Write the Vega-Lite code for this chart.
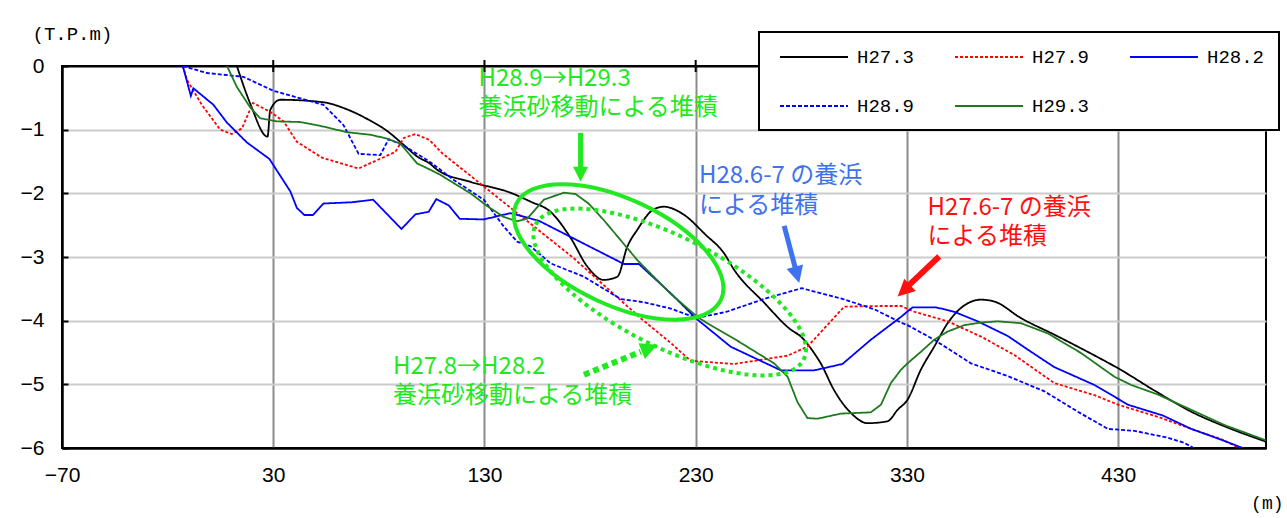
{
  "$schema": "https://vega.github.io/schema/vega-lite/v6.json",
  "width": 1204,
  "height": 382,
  "autosize": {"type": "none"},
  "padding": {"left": 62, "top": 66, "right": 21, "bottom": 70},
  "background": "#ffffff",
  "config": {
    "view": {"stroke": "#000000", "strokeWidth": 2}
  },
  "datasets": {
    "profiles": [
      {"series":"H27.3","x":12.8,"y":0},{"series":"H27.3","x":19.1,"y":-0.59},{"series":"H27.3","x":27.3,"y":-1.11},{"series":"H27.3","x":28.6,"y":-0.69},{"series":"H27.3","x":33.3,"y":-0.53},{"series":"H27.3","x":53.8,"y":-0.57},{"series":"H27.3","x":63.3,"y":-0.66},{"series":"H27.3","x":74.4,"y":-0.83},{"series":"H27.3","x":83.9,"y":-1.02},{"series":"H27.3","x":91.8,"y":-1.24},{"series":"H27.3","x":98.1,"y":-1.42},{"series":"H27.3","x":104.4,"y":-1.54},{"series":"H27.3","x":107.6,"y":-1.63},{"series":"H27.3","x":123.4,"y":-1.82},{"series":"H27.3","x":142.3,"y":-1.99},{"series":"H27.3","x":151.8,"y":-2.13},{"series":"H27.3","x":161.3,"y":-2.29},{"series":"H27.3","x":170.8,"y":-2.7},{"series":"H27.3","x":178.7,"y":-3.15},{"series":"H27.3","x":186.5,"y":-3.36},{"series":"H27.3","x":192.9,"y":-3.31},{"series":"H27.3","x":197.6,"y":-2.84},{"series":"H27.3","x":202.4,"y":-2.57},{"series":"H27.3","x":210.2,"y":-2.25},{"series":"H27.3","x":215,"y":-2.21},{"series":"H27.3","x":223.7,"y":-2.32},{"series":"H27.3","x":234.7,"y":-2.65},{"series":"H27.3","x":243.4,"y":-2.94},{"series":"H27.3","x":248.2,"y":-3.2},{"series":"H27.3","x":262.2,"y":-3.71},{"series":"H27.3","x":275,"y":-4.14},{"series":"H27.3","x":279.8,"y":-4.25},{"series":"H27.3","x":286.1,"y":-4.51},{"series":"H27.3","x":289.2,"y":-4.67},{"series":"H27.3","x":295.5,"y":-5.09},{"series":"H27.3","x":303.5,"y":-5.45},{"series":"H27.3","x":311.4,"y":-5.61},{"series":"H27.3","x":320.8,"y":-5.58},{"series":"H27.3","x":325.6,"y":-5.4},{"series":"H27.3","x":330.3,"y":-5.24},{"series":"H27.3","x":336.6,"y":-4.77},{"series":"H27.3","x":342.9,"y":-4.41},{"series":"H27.3","x":349.3,"y":-4.04},{"series":"H27.3","x":355.6,"y":-3.8},{"series":"H27.3","x":365.1,"y":-3.67},{"series":"H27.3","x":371.4,"y":-3.7},{"series":"H27.3","x":384,"y":-3.96},{"series":"H27.3","x":399.8,"y":-4.22},{"series":"H27.3","x":415.6,"y":-4.49},{"series":"H27.3","x":430.6,"y":-4.76},{"series":"H27.3","x":448.8,"y":-5.13},{"series":"H27.3","x":464.6,"y":-5.43},{"series":"H27.3","x":480.4,"y":-5.66},{"series":"H27.3","x":500,"y":-5.9},

      {"series":"H27.9","x":-12.8,"y":0},{"series":"H27.9","x":-10.8,"y":-0.22},{"series":"H27.9","x":-3.8,"y":-0.61},{"series":"H27.9","x":4.9,"y":-1.0},{"series":"H27.9","x":10.4,"y":-1.07},{"series":"H27.9","x":15.2,"y":-0.98},{"series":"H27.9","x":20.4,"y":-0.58},{"series":"H27.9","x":28.6,"y":-0.72},{"series":"H27.9","x":34.9,"y":-0.87},{"series":"H27.9","x":41.2,"y":-1.19},{"series":"H27.9","x":53.1,"y":-1.44},{"series":"H27.9","x":70.4,"y":-1.61},{"series":"H27.9","x":87.8,"y":-1.35},{"series":"H27.9","x":91.8,"y":-1.13},{"series":"H27.9","x":97.3,"y":-1.07},{"series":"H27.9","x":103.9,"y":-1.16},{"series":"H27.9","x":110,"y":-1.37},{"series":"H27.9","x":172.3,"y":-3.02},{"series":"H27.9","x":203.9,"y":-3.96},{"series":"H27.9","x":218.2,"y":-4.35},{"series":"H27.9","x":227.6,"y":-4.63},{"series":"H27.9","x":248.1,"y":-4.68},{"series":"H27.9","x":273.5,"y":-4.55},{"series":"H27.9","x":282.9,"y":-4.41},{"series":"H27.9","x":300.3,"y":-3.78},{"series":"H27.9","x":317.7,"y":-3.77},{"series":"H27.9","x":327.2,"y":-3.77},{"series":"H27.9","x":333.5,"y":-3.86},{"series":"H27.9","x":349.3,"y":-4.01},{"series":"H27.9","x":365.1,"y":-4.25},{"series":"H27.9","x":380.9,"y":-4.54},{"series":"H27.9","x":399.8,"y":-4.98},{"series":"H27.9","x":418.8,"y":-5.17},{"series":"H27.9","x":429.9,"y":-5.32},{"series":"H27.9","x":448.8,"y":-5.51},{"series":"H27.9","x":464.6,"y":-5.7},{"series":"H27.9","x":478.8,"y":-5.86},{"series":"H27.9","x":489.2,"y":-6.03},

      {"series":"H28.2","x":-12.8,"y":0},{"series":"H28.2","x":-9.0,"y":-0.47},{"series":"H28.2","x":-7.8,"y":-0.35},{"series":"H28.2","x":1.7,"y":-0.61},{"series":"H28.2","x":8.1,"y":-0.89},{"series":"H28.2","x":17.5,"y":-1.2},{"series":"H28.2","x":28.2,"y":-1.46},{"series":"H28.2","x":38.1,"y":-1.97},{"series":"H28.2","x":41.2,"y":-2.23},{"series":"H28.2","x":44.7,"y":-2.34},{"series":"H28.2","x":48.8,"y":-2.34},{"series":"H28.2","x":53.8,"y":-2.16},{"series":"H28.2","x":67.3,"y":-2.14},{"series":"H28.2","x":77.3,"y":-2.1},{"series":"H28.2","x":90.7,"y":-2.56},{"series":"H28.2","x":97.3,"y":-2.33},{"series":"H28.2","x":103.6,"y":-2.29},{"series":"H28.2","x":107.2,"y":-2.09},{"series":"H28.2","x":113.1,"y":-2.19},{"series":"H28.2","x":118.3,"y":-2.4},{"series":"H28.2","x":129.7,"y":-2.41},{"series":"H28.2","x":142.3,"y":-2.31},{"series":"H28.2","x":155.7,"y":-2.43},{"series":"H28.2","x":196,"y":-3.11},{"series":"H28.2","x":203.1,"y":-3.11},{"series":"H28.2","x":218.2,"y":-3.57},{"series":"H28.2","x":230,"y":-3.96},{"series":"H28.2","x":246.6,"y":-4.41},{"series":"H28.2","x":270.3,"y":-4.78},{"series":"H28.2","x":286.1,"y":-4.78},{"series":"H28.2","x":299.5,"y":-4.68},{"series":"H28.2","x":312.9,"y":-4.3},{"series":"H28.2","x":327.2,"y":-3.94},{"series":"H28.2","x":332.7,"y":-3.79},{"series":"H28.2","x":343.7,"y":-3.79},{"series":"H28.2","x":352.4,"y":-3.86},{"series":"H28.2","x":363.5,"y":-4.01},{"series":"H28.2","x":377.7,"y":-4.24},{"series":"H28.2","x":388.8,"y":-4.49},{"series":"H28.2","x":399.8,"y":-4.73},{"series":"H28.2","x":418.8,"y":-5.01},{"series":"H28.2","x":430.6,"y":-5.24},{"series":"H28.2","x":434.6,"y":-5.32},{"series":"H28.2","x":451.2,"y":-5.49},{"series":"H28.2","x":464.6,"y":-5.7},{"series":"H28.2","x":478.8,"y":-5.87},{"series":"H28.2","x":492.1,"y":-6.04},

      {"series":"H28.9","x":-12.8,"y":0},{"series":"H28.9","x":-1.4,"y":-0.11},{"series":"H28.9","x":15.9,"y":-0.17},{"series":"H28.9","x":30.1,"y":-0.39},{"series":"H28.9","x":53.8,"y":-0.61},{"series":"H28.9","x":63.3,"y":-0.93},{"series":"H28.9","x":70.4,"y":-1.38},{"series":"H28.9","x":80.7,"y":-1.4},{"series":"H28.9","x":84.6,"y":-1.15},{"series":"H28.9","x":91.8,"y":-1.25},{"series":"H28.9","x":104.4,"y":-1.51},{"series":"H28.9","x":115.5,"y":-1.79},{"series":"H28.9","x":129.7,"y":-2.1},{"series":"H28.9","x":139.1,"y":-2.52},{"series":"H28.9","x":145.5,"y":-2.76},{"series":"H28.9","x":151.8,"y":-2.83},{"series":"H28.9","x":161.3,"y":-3.1},{"series":"H28.9","x":177.1,"y":-3.31},{"series":"H28.9","x":194.5,"y":-3.66},{"series":"H28.9","x":205.5,"y":-3.71},{"series":"H28.9","x":218.2,"y":-3.81},{"series":"H28.9","x":230.5,"y":-3.96},{"series":"H28.9","x":244.7,"y":-3.86},{"series":"H28.9","x":263.2,"y":-3.65},{"series":"H28.9","x":280.2,"y":-3.49},{"series":"H28.9","x":298.7,"y":-3.65},{"series":"H28.9","x":314.5,"y":-3.82},{"series":"H28.9","x":327.2,"y":-4.03},{"series":"H28.9","x":330.3,"y":-4.07},{"series":"H28.9","x":342.9,"y":-4.3},{"series":"H28.9","x":360.3,"y":-4.67},{"series":"H28.9","x":377.7,"y":-4.87},{"series":"H28.9","x":395.1,"y":-5.11},{"series":"H28.9","x":410.9,"y":-5.43},{"series":"H28.9","x":425.1,"y":-5.7},{"series":"H28.9","x":437.7,"y":-5.73},{"series":"H28.9","x":453.6,"y":-5.84},{"series":"H28.9","x":461.4,"y":-5.92},{"series":"H28.9","x":467.8,"y":-6.04},

      {"series":"H29.3","x":8.1,"y":0},{"series":"H29.3","x":12.8,"y":-0.33},{"series":"H29.3","x":19.1,"y":-0.65},{"series":"H29.3","x":23.8,"y":-0.82},{"series":"H29.3","x":31.8,"y":-0.87},{"series":"H29.3","x":42.8,"y":-0.88},{"series":"H29.3","x":52.3,"y":-0.94},{"series":"H29.3","x":64.9,"y":-1.04},{"series":"H29.3","x":76,"y":-1.08},{"series":"H29.3","x":83.9,"y":-1.14},{"series":"H29.3","x":90.2,"y":-1.22},{"series":"H29.3","x":98.1,"y":-1.53},{"series":"H29.3","x":104.4,"y":-1.63},{"series":"H29.3","x":109.1,"y":-1.71},{"series":"H29.3","x":123.4,"y":-2.0},{"series":"H29.3","x":131.3,"y":-2.2},{"series":"H29.3","x":139.1,"y":-2.37},{"series":"H29.3","x":145.5,"y":-2.44},{"series":"H29.3","x":150.2,"y":-2.4},{"series":"H29.3","x":158.1,"y":-2.1},{"series":"H29.3","x":167.6,"y":-1.99},{"series":"H29.3","x":173.1,"y":-2.01},{"series":"H29.3","x":179.3,"y":-2.16},{"series":"H29.3","x":186.5,"y":-2.42},{"series":"H29.3","x":202.4,"y":-3.05},{"series":"H29.3","x":218.2,"y":-3.58},{"series":"H29.3","x":230.8,"y":-3.94},{"series":"H29.3","x":235.5,"y":-4.04},{"series":"H29.3","x":249,"y":-4.3},{"series":"H29.3","x":267.1,"y":-4.67},{"series":"H29.3","x":273.5,"y":-4.88},{"series":"H29.3","x":278.2,"y":-5.28},{"series":"H29.3","x":282.9,"y":-5.53},{"series":"H29.3","x":287.7,"y":-5.54},{"series":"H29.3","x":298.7,"y":-5.46},{"series":"H29.3","x":312.9,"y":-5.44},{"series":"H29.3","x":317.7,"y":-5.32},{"series":"H29.3","x":322.4,"y":-4.98},{"series":"H29.3","x":327.2,"y":-4.77},{"series":"H29.3","x":330.3,"y":-4.67},{"series":"H29.3","x":336.6,"y":-4.49},{"series":"H29.3","x":342.9,"y":-4.3},{"series":"H29.3","x":349.3,"y":-4.17},{"series":"H29.3","x":357.2,"y":-4.07},{"series":"H29.3","x":365.1,"y":-4.03},{"series":"H29.3","x":373,"y":-4.01},{"series":"H29.3","x":384,"y":-4.04},{"series":"H29.3","x":396.7,"y":-4.2},{"series":"H29.3","x":412.5,"y":-4.51},{"series":"H29.3","x":428.2,"y":-4.88},{"series":"H29.3","x":436.2,"y":-5.01},{"series":"H29.3","x":448.8,"y":-5.16},{"series":"H29.3","x":464.6,"y":-5.4},{"series":"H29.3","x":480.4,"y":-5.64},{"series":"H29.3","x":500,"y":-5.88}
    ],
    "topTicks": [
      {"x":30,"y":0},{"x":130,"y":0},{"x":230,"y":0},{"x":330,"y":0},{"x":430,"y":0}
    ],
    "greenNotes": [
      {"x":127.2,"y":-0.31,"t":"H28.9→H29.3\n養浜砂移動による堆積"},
      {"x":86.7,"y":-4.83,"t":"H27.8→H28.2\n養浜砂移動による堆積"}
    ],
    "blueNotes": [
      {"x":231.6,"y":-1.84,"t":"H28.6-7 の養浜\nによる堆積"}
    ],
    "redNotes": [
      {"x":339.8,"y":-2.34,"t":"H27.6-7 の養浜\nによる堆積"}
    ]
  },
  "encoding": {
    "x": {
      "field": "x", "type": "quantitative",
      "scale": {"domain": [-70, 500], "nice": false, "zero": false},
      "axis": {
        "values": [-70, 30, 130, 230, 330, 430],
        "grid": true,
        "gridColor": {"condition": {"test": "datum.value === -70", "value": "#000000"}, "value": "#8c8c8c"},
        "gridWidth": 2,
        "ticks": false,
        "domainColor": "#000000", "domainWidth": 2,
        "labelFont": "Liberation Sans", "labelFontSize": 21, "labelColor": "#000000",
        "labelPadding": 16, "labelFlush": false, "labelOverlap": false,
        "title": "(m)", "titleFont": "Liberation Mono", "titleFontSize": 18,
        "titleFontWeight": "normal", "titleColor": "#000000",
        "titleAlign": "right", "titleBaseline": "alphabetic", "titleX": 1221, "titleY": 60
      }
    },
    "y": {
      "field": "y", "type": "quantitative",
      "scale": {"domain": [-6, 0], "nice": false, "zero": false},
      "axis": {
        "values": [-6, -5, -4, -3, -2, -1, 0],
        "grid": true,
        "gridColor": {"condition": {"test": "datum.value === 0 || datum.value === -6", "value": "#000000"}, "value": "#cccccc"},
        "gridWidth": 2,
        "ticks": true, "tickSize": -6, "tickColor": "#000000", "tickWidth": 2,
        "domainColor": "#000000", "domainWidth": 2,
        "labelFont": "Liberation Sans", "labelFontSize": 21, "labelColor": "#000000",
        "labelPadding": 24, "labelFlush": false,
        "title": "(T.P.m)", "titleAngle": 0, "titleAlign": "left", "titleBaseline": "alphabetic",
        "titleX": -30, "titleY": -27, "titleFont": "Liberation Mono", "titleFontSize": 19,
        "titleFontWeight": "normal", "titleColor": "#000000"
      }
    }
  },
  "layer": [
    {
      "data": {"name": "topTicks"},
      "mark": {"type": "tick", "orient": "vertical", "size": 12, "thickness": 2, "color": "#000000", "opacity": 1, "clip": false}
    },
    {
      "data": {"name": "profiles"},
      "transform": [{"filter": "datum.series === 'H27.3'"}],
      "mark": {"type": "line", "interpolate": "monotone", "strokeWidth": 1.8, "clip": true},
      "encoding": {
        "color": {
          "field": "series", "type": "nominal",
          "scale": {"domain": ["H27.3", "H27.9", "H28.2", "H28.9", "H29.3"], "range": ["#000000", "#ff0000", "#0000ff", "#0000ff", "#1f7a1f"]},
          "legend": {"title": null, "orient": "none", "legendX": 697, "legendY": -34, "direction": "horizontal", "columns": 3, "symbolType": "M-0.4,0L6.4,0", "symbolSize": 400, "symbolStrokeWidth": 1.8, "labelFont": "Liberation Mono", "labelFontSize": 19, "labelColor": "#000000", "labelOffset": 62, "columnPadding": 33, "rowPadding": 28, "padding": 14, "strokeColor": "#000000", "fillColor": "#ffffff", "encode": {"legend": {"update": {"strokeWidth": {"value": 2}}}}}
        },
        "strokeDash": {
          "field": "series", "type": "nominal",
          "scale": {"domain": ["H27.3", "H27.9", "H28.2", "H28.9", "H29.3"], "range": [[1, 0], [3, 2], [1, 0], [4, 2], [1, 0]]},
          "legend": {"title": null, "orient": "none", "legendX": 697, "legendY": -34, "direction": "horizontal", "columns": 3, "symbolType": "M-0.4,0L6.4,0", "symbolSize": 400, "symbolStrokeWidth": 1.8, "labelFont": "Liberation Mono", "labelFontSize": 19, "labelColor": "#000000", "labelOffset": 62, "columnPadding": 33, "rowPadding": 28, "padding": 14, "strokeColor": "#000000", "fillColor": "#ffffff", "encode": {"legend": {"update": {"strokeWidth": {"value": 2}}}}}
        }
      }
    },
    {
      "data": {"name": "profiles"},
      "transform": [{"filter": "datum.series !== 'H27.3'"}],
      "mark": {"type": "line", "strokeWidth": 1.8, "clip": true},
      "encoding": {
        "color": {
          "field": "series", "type": "nominal",
          "scale": {"domain": ["H27.3", "H27.9", "H28.2", "H28.9", "H29.3"], "range": ["#000000", "#ff0000", "#0000ff", "#0000ff", "#1f7a1f"]},
          "legend": {"title": null, "orient": "none", "legendX": 697, "legendY": -34, "direction": "horizontal", "columns": 3, "symbolType": "M-0.4,0L6.4,0", "symbolSize": 400, "symbolStrokeWidth": 1.8, "labelFont": "Liberation Mono", "labelFontSize": 19, "labelColor": "#000000", "labelOffset": 62, "columnPadding": 33, "rowPadding": 28, "padding": 14, "strokeColor": "#000000", "fillColor": "#ffffff", "encode": {"legend": {"update": {"strokeWidth": {"value": 2}}}}}
        },
        "strokeDash": {
          "field": "series", "type": "nominal",
          "scale": {"domain": ["H27.3", "H27.9", "H28.2", "H28.9", "H29.3"], "range": [[1, 0], [3, 2], [1, 0], [4, 2], [1, 0]]},
          "legend": {"title": null, "orient": "none", "legendX": 697, "legendY": -34, "direction": "horizontal", "columns": 3, "symbolType": "M-0.4,0L6.4,0", "symbolSize": 400, "symbolStrokeWidth": 1.8, "labelFont": "Liberation Mono", "labelFontSize": 19, "labelColor": "#000000", "labelOffset": 62, "columnPadding": 33, "rowPadding": 28, "padding": 14, "strokeColor": "#000000", "fillColor": "#ffffff", "encode": {"legend": {"update": {"strokeWidth": {"value": 2}}}}}
        }
      }
    },
    {
      "data": {"values": [{"x": 193.5, "y": -2.92}]},
      "mark": {"type": "point", "shape": "M-1,0A1,0.469,0,1,1,1,0A1,0.469,0,1,1,-1,0Z", "size": 51076, "angle": 25, "filled": false, "color": "#22e822", "strokeWidth": 4, "opacity": 1}
    },
    {
      "data": {"values": [{"x": 217.7, "y": -3.55}]},
      "mark": {"type": "point", "shape": "M-1,0A1,0.367,0,1,1,1,0A1,0.367,0,1,1,-1,0Z", "size": 90000, "angle": 26.7, "filled": false, "color": "#22e822", "strokeWidth": 4, "strokeDash": [4, 4], "opacity": 1}
    },
    {
      "data": {"values": [{"x": 175.5, "y": -1.05, "x2": 175.5, "y2": -1.62}]},
      "mark": {"type": "rule", "color": "#22e822", "strokeWidth": 5},
      "encoding": {"x2": {"field": "x2"}, "y2": {"field": "y2"}}
    },
    {
      "data": {"values": [{"x": 175.5, "y": -1.82}]},
      "mark": {"type": "point", "shape": "M0,0L-2,-1L-2,1Z", "size": 225, "angle": 90, "filled": true, "color": "#22e822", "opacity": 1}
    },
    {
      "data": {"values": [{"x": 271.9, "y": -2.51, "x2": 277.6, "y2": -3.23}]},
      "mark": {"type": "rule", "color": "#3f72ee", "strokeWidth": 5},
      "encoding": {"x2": {"field": "x2"}, "y2": {"field": "y2"}}
    },
    {
      "data": {"values": [{"x": 279.0, "y": -3.41}]},
      "mark": {"type": "point", "shape": "M0,0L-2,-1L-2,1Z", "size": 289, "angle": 75, "filled": true, "color": "#3f72ee", "opacity": 1}
    },
    {
      "data": {"values": [{"x": 345.3, "y": -2.99, "x2": 330.1, "y2": -3.47}]},
      "mark": {"type": "rule", "color": "#ff1010", "strokeWidth": 6},
      "encoding": {"x2": {"field": "x2"}, "y2": {"field": "y2"}}
    },
    {
      "data": {"values": [{"x": 325.6, "y": -3.62}]},
      "mark": {"type": "point", "shape": "M0,0L-2,-1L-2,1Z", "size": 289, "angle": 137, "filled": true, "color": "#ff1010", "opacity": 1}
    },
    {
      "data": {"values": [{"x": 177.1, "y": -4.85, "x2": 204, "y2": -4.49}]},
      "mark": {"type": "rule", "color": "#22e822", "strokeWidth": 6, "strokeDash": [6, 4]},
      "encoding": {"x2": {"field": "x2"}, "y2": {"field": "y2"}}
    },
    {
      "data": {"values": [{"x": 211.9, "y": -4.38}]},
      "mark": {"type": "point", "shape": "M0,0L-2,-1L-2,1Z", "size": 289, "angle": -22, "filled": true, "color": "#22e822", "opacity": 1}
    },
    {
      "data": {"name": "greenNotes"},
      "mark": {"type": "text", "align": "left", "baseline": "alphabetic", "lineBreak": "\n", "lineHeight": 29, "font": "Noto Sans CJK JP", "fontSize": 24, "color": "#22e822"},
      "encoding": {"text": {"field": "t"}}
    },
    {
      "data": {"name": "blueNotes"},
      "mark": {"type": "text", "align": "left", "baseline": "alphabetic", "lineBreak": "\n", "lineHeight": 30, "font": "Noto Sans CJK JP", "fontSize": 24, "color": "#3f72ee"},
      "encoding": {"text": {"field": "t"}}
    },
    {
      "data": {"name": "redNotes"},
      "mark": {"type": "text", "align": "left", "baseline": "alphabetic", "lineBreak": "\n", "lineHeight": 29, "font": "Noto Sans CJK JP", "fontSize": 24, "color": "#ff1010"},
      "encoding": {"text": {"field": "t"}}
    }
  ]
}
